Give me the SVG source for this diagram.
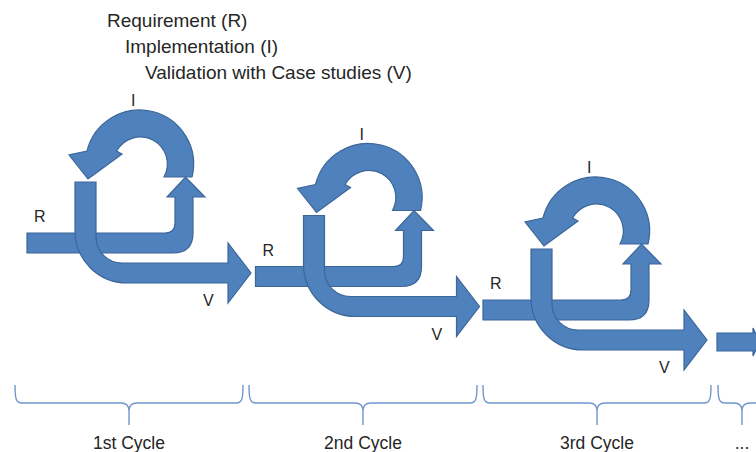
<svg xmlns="http://www.w3.org/2000/svg" xmlns:xlink="http://www.w3.org/1999/xlink" width="756" height="452" viewBox="0 0 756 452">
  <style>
    .shape { fill: #4F81BD; stroke: #3B6699; stroke-width: 1.2; stroke-linejoin: miter; }
    .txt { font-family: "Liberation Sans", Arial, sans-serif; fill: #262626; }
    .legend { font-size: 19px; }
    .lbl { font-size: 16px; }
    .cyc { font-size: 17.5px; text-anchor: middle; }
    .brace { fill: none; stroke: #6F97CC; stroke-width: 1.4; }
  </style>
  <defs>
    <!-- requirement: horizontal bar bending up into an arrowhead -->
    <path id="arrowR" d="M27,233 H165 Q175,233 175,223 V197 H167 L185.5,177 L205,197 H193 V233 Q193,253 173,253 H27 Z"/>
    <!-- implementation: circular arrow looping back to the left -->
    <path id="arrowI" d="M192,177 A54,54 0 0 0 87,151 L69,155 L88,179 L122,154 L116.6,151 A27,27 0 0 1 164,177 Z"/>
    <!-- validation: vertical bar bending right into an arrowhead -->
    <path id="arrowV" d="M75,182 H96 V237 A26,26 0 0 0 122,263 H228 V243 L251,273 L228,303 V283 H127 A52,52 0 0 1 75,231 Z"/>
    <!-- curly brace, 228 wide, tip in the middle -->
    <path id="brace" d="M0,0 C0,14 1,18 7,18 H106 Q114,18 114,26 V40 M114,26 Q114,18 122,18 H221 C227,18 228,14 228,0"/>
  </defs>

  <!-- legend -->
  <g id="legend" class="txt legend">
    <text x="107" y="27">Requirement (R)</text>
    <text x="125" y="53">Implementation (I)</text>
    <text x="145" y="79">Validation with Case studies (V)</text>
  </g>

  <!-- cycle 1 -->
  <g id="cycle1">
    <g id="c1-R"><use xlink:href="#arrowR" class="shape"/></g>
    <g id="c1-I"><use xlink:href="#arrowI" class="shape"/></g>
    <g id="c1-V"><use xlink:href="#arrowV" class="shape"/></g>
    <g class="txt lbl">
      <text x="34" y="222">R</text>
      <text x="131" y="106">I</text>
      <text x="203" y="306">V</text>
    </g>
  </g>

  <!-- cycle 2 -->
  <g id="cycle2" transform="translate(228.5,33.5)">
    <g id="c2-R"><use xlink:href="#arrowR" class="shape"/></g>
    <g id="c2-I"><use xlink:href="#arrowI" class="shape"/></g>
    <g id="c2-V"><use xlink:href="#arrowV" class="shape"/></g>
    <g class="txt lbl">
      <text x="34" y="222">R</text>
      <text x="131" y="106">I</text>
      <text x="203" y="306">V</text>
    </g>
  </g>

  <!-- cycle 3 -->
  <g id="cycle3" transform="translate(456,67)">
    <g id="c3-R"><use xlink:href="#arrowR" class="shape"/></g>
    <g id="c3-I"><use xlink:href="#arrowI" class="shape"/></g>
    <g id="c3-V"><use xlink:href="#arrowV" class="shape"/></g>
    <g class="txt lbl">
      <text x="34" y="222">R</text>
      <text x="131" y="106">I</text>
      <text x="203" y="306">V</text>
    </g>
  </g>

  <!-- start of the next cycle, running off the right edge -->
  <g id="cycle4">
    <path class="shape" d="M717,333 H753 V328 L760,342 L753,356 V351 H717 Z"/>
  </g>

  <!-- braces and cycle captions -->
  <g id="braces">
    <use xlink:href="#brace" class="brace" transform="translate(15,385)"/>
    <use xlink:href="#brace" class="brace" transform="translate(249,385)"/>
    <use xlink:href="#brace" class="brace" transform="translate(483,385)"/>
    <path class="brace" d="M718,385 C718,399 719,403 725,403 H734 Q742,403 742,411 V425 M742,411 Q742,403 750,403 H760"/>
  </g>
  <g id="captions" class="txt cyc">
    <text x="129" y="449">1st Cycle</text>
    <text x="363" y="449">2nd Cycle</text>
    <text x="597" y="449">3rd Cycle</text>
    <text x="742" y="449">...</text>
  </g>
</svg>
